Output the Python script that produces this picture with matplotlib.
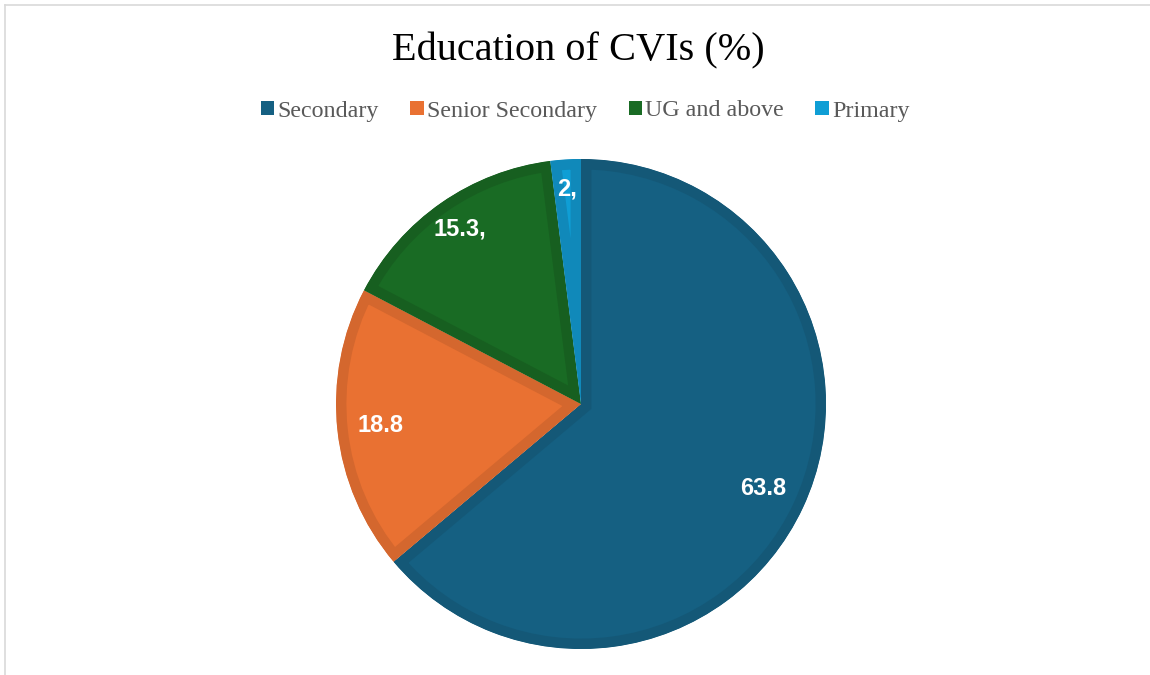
import matplotlib.pyplot as plt
import numpy as np
from matplotlib.lines import Line2D
from matplotlib.patches import Patch

# data
categories = ['Secondary', 'Senior Secondary', 'UG and above', 'Primary']
values = [63.8, 18.8, 15.3, 2]
labels = ['63.8', '18.8', '15.3,', '2,']
colors = ['#156082', '#E97132', '#196B24', '#0F9ED5']
edge_colors = ['#145877', '#D4672E', '#175F20', '#1089BA']
label_dist = [0.82, 0.825, 0.87, 0.88]

fig = plt.figure(figsize=(11.5, 6.75), dpi=100)
W, H = 1150, 675
cx, cy, r = 581, 404, 245
ax = fig.add_axes([(cx - r) / W, (H - cy - r) / H, 2 * r / W, 2 * r / H])

wedges, _ = ax.pie(values, colors=colors, startangle=90, counterclock=False,
                   radius=1.0, wedgeprops=dict(linewidth=15))
for w, ec in zip(wedges, edge_colors):
    w.set_edgecolor(ec)
    w.set_clip_on(True)
    w.set_clip_path(w)  # keep the border inside each slice

for w, lab, d in zip(wedges, labels, label_dist):
    ang = np.deg2rad((w.theta1 + w.theta2) / 2)
    ax.text(d * np.cos(ang), d * np.sin(ang), lab, ha='center', va='center',
            color='white', fontsize=17, fontweight='bold', family='Liberation Sans')

ax.set_xlim(-1, 1)
ax.set_ylim(-1, 1)
ax.set_aspect('equal')
ax.axis('off')

fig.text(0.503, 1 - 51 / H, 'Education of CVIs (%)', ha='center', va='center',
         fontsize=29, family='Liberation Serif', color='black')

handles = [Patch(facecolor=c, edgecolor='none') for c in colors]
fig.legend(handles, categories, loc='center', bbox_to_anchor=(0.509, 1 - 111 / H),
           ncol=4, frameon=False, handlelength=0.55, handleheight=0.55,
           handletextpad=0.15, columnspacing=1.3,
           prop={'family': 'Liberation Serif', 'size': 17.3}, labelcolor='#595959')

# chart frame
fig.add_artist(Line2D([4.5 / W, 4.5 / W], [0, 1 - 4.5 / H], color='#d9d9d9', lw=1.2))
fig.add_artist(Line2D([4.5 / W, 1], [1 - 4.5 / H, 1 - 4.5 / H], color='#d9d9d9', lw=1.2))

fig.savefig('out.png', dpi=100)
